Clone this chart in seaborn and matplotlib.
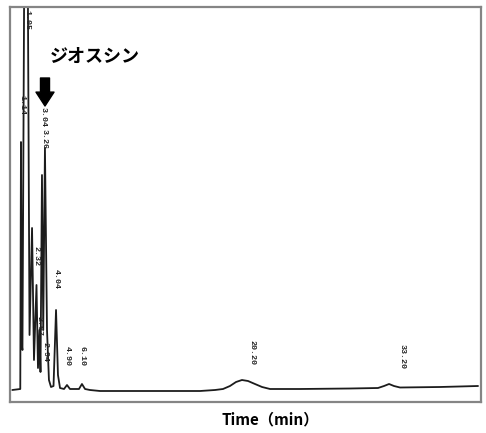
import matplotlib
matplotlib.use("Agg")
import matplotlib.pyplot as plt
import seaborn as sns
import pandas as pd

# chromatogram trace (time in min, detector signal)
time_min = [0.00, 0.70, 0.76, 0.83, 0.89, 1.20, 1.51, 1.73, 1.90, 2.12,
            2.25, 2.38, 2.47, 2.60, 2.71, 2.86, 3.04, 3.21, 3.39, 3.61,
            3.83, 4.00, 4.18, 4.53, 4.79, 5.05, 5.84, 6.10, 6.37, 6.80,
            7.68, 12.06, 16.44, 17.75, 18.45, 19.06, 19.59, 20.11, 20.64, 21.25,
            21.87, 22.57, 25.19, 29.57, 32.02, 32.55, 32.99, 33.42, 33.95, 37.45,
            40.78]
signal = [0, 1, 248, 45, 40, 790, 55, 162, 30, 105,
          22, 60, 18, 215, 60, 242, 60, 10, 3, 4,
          80, 15, 2, 1, 5, 1, 1, 6, 1, 0,
          -1, -1, -1, 0, 1, 4, 8, 10, 9, 6,
          3, 1, 1, 1.5, 2, 4, 6, 4, 2.5, 3,
          4]

# retention time labels printed by the integrator
label_text = ["1.14", "1.05", "3.04", "3.26", "2.32", "2.67", "2.94",
              "4.04", "4.90", "6.10", "20.20", "33.20"]
label_time = [0.81, 1.29, 2.73, 2.82, 2.03, 2.30, 2.82,
              3.83, 4.79, 6.10, 20.99, 34.13]
label_level = [285, 370, 273, 251, 134, 64, 38,
               111, 34, 34, 38, 33]

title_text = "ジオスシン"
xlabel_text = "Time（min）"

df = pd.DataFrame({"time": time_min, "signal": signal})

sns.set_style("white")
plt.rcParams["font.family"] = ["Noto Sans CJK JP", "DejaVu Sans"]

W, H = 486, 433
fig = plt.figure(figsize=(W / 100, H / 100), dpi=100)
ax = fig.add_axes([10 / W, 1 - 402 / H, (481 - 10) / W, (402 - 7) / H])

sns.lineplot(data=df, x="time", y="signal", ax=ax, color="#1c1c1c",
             linewidth=1.3, estimator=None, sort=False)

ax.set_xlim(-0.20, 41.04)
ax.set_ylim(-12, 383)
ax.set_xticks([])
ax.set_yticks([])
ax.set_xlabel("")
ax.set_ylabel("")
for s in ax.spines.values():
    s.set_color("#858585")
    s.set_linewidth(1.6)

# peak labels, vertical, small mono font
for txt, t, lv in zip(label_text, label_time, label_level):
    ax.text(t, lv, txt, rotation=270, ha="center", va="center",
            fontsize=6.0, fontweight="bold", family="Liberation Mono",
            color="#222222", clip_on=False)

# arrow pointing to the diosgenin-like peak
ax.annotate("", xy=(45, H - 106), xytext=(45, H - 78),
            xycoords="figure pixels", textcoords="figure pixels",
            arrowprops=dict(arrowstyle="simple,head_length=1.0,head_width=1.3,tail_width=0.65",
                            color="black", shrinkA=0, shrinkB=0))

fig.text(50 / W, 1 - 56 / H, title_text, ha="left", va="center",
         fontsize=13, fontweight="bold", color="black")
fig.text(270 / W, 1 - 419 / H, xlabel_text, ha="center", va="center",
         fontsize=11, fontweight="bold", color="black")

fig.savefig("out.png", dpi=100, facecolor="white")
